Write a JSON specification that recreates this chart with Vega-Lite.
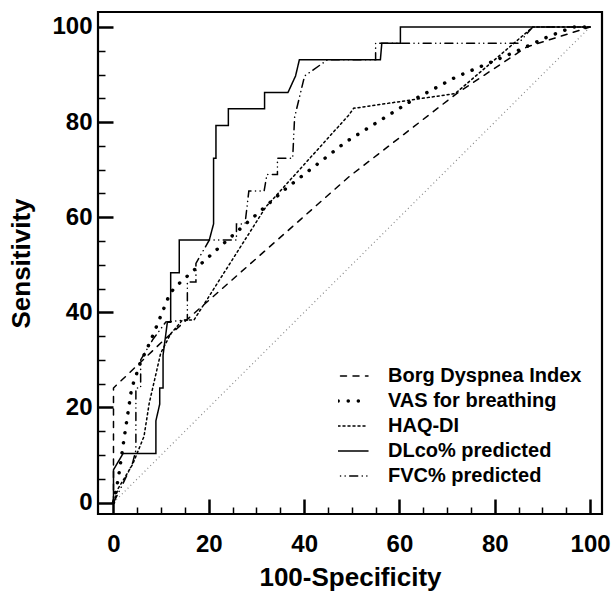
{
  "$schema": "https://vega.github.io/schema/vega-lite/v6.json",
  "width": 504,
  "height": 502,
  "autosize": {"type": "none"},
  "padding": {"left": 98, "top": 12, "right": 12, "bottom": 81},
  "background": "white",
  "config": {
    "view": {"stroke": "black", "strokeWidth": 2.2},
    "font": "Liberation Sans",
    "axis": {"grid": false, "domain": false, "labelFont": "Liberation Sans", "labelFontWeight": "bold", "labelColor": "black", "titleFont": "Liberation Sans", "titleFontWeight": "bold", "titleColor": "black", "tickColor": "black"}
  },
  "datasets": {
    "roc": [
      {"s": "Borg Dyspnea Index", "i": 0, "x": 0, "y": 0},
      {"s": "Borg Dyspnea Index", "i": 1, "x": 0, "y": 24.1},
      {"s": "Borg Dyspnea Index", "i": 2, "x": 10.6, "y": 34.2},
      {"s": "Borg Dyspnea Index", "i": 3, "x": 49.4, "y": 68.5},
      {"s": "Borg Dyspnea Index", "i": 4, "x": 72, "y": 86},
      {"s": "Borg Dyspnea Index", "i": 5, "x": 86.7, "y": 95.8},
      {"s": "Borg Dyspnea Index", "i": 6, "x": 100, "y": 100},

      {"s": "VAS for breathing", "i": 0, "x": 0, "y": 0},
      {"s": "VAS for breathing", "i": 1, "x": 1, "y": 5},
      {"s": "VAS for breathing", "i": 2, "x": 2.2, "y": 13.3},
      {"s": "VAS for breathing", "i": 3, "x": 3.8, "y": 24},
      {"s": "VAS for breathing", "i": 4, "x": 5.6, "y": 29.3},
      {"s": "VAS for breathing", "i": 5, "x": 7.8, "y": 34},
      {"s": "VAS for breathing", "i": 6, "x": 9.9, "y": 39.2},
      {"s": "VAS for breathing", "i": 7, "x": 11.9, "y": 44.1},
      {"s": "VAS for breathing", "i": 8, "x": 13.8, "y": 46.1},
      {"s": "VAS for breathing", "i": 9, "x": 23.9, "y": 55.2},
      {"s": "VAS for breathing", "i": 10, "x": 35.9, "y": 65.8},
      {"s": "VAS for breathing", "i": 11, "x": 48.7, "y": 75.8},
      {"s": "VAS for breathing", "i": 12, "x": 62.4, "y": 84.4},
      {"s": "VAS for breathing", "i": 13, "x": 71.7, "y": 89.4},
      {"s": "VAS for breathing", "i": 14, "x": 83.9, "y": 94.6},
      {"s": "VAS for breathing", "i": 15, "x": 91.5, "y": 98.1},
      {"s": "VAS for breathing", "i": 16, "x": 96.5, "y": 100},
      {"s": "VAS for breathing", "i": 17, "x": 100, "y": 100},

      {"s": "HAQ-DI", "i": 0, "x": 0, "y": 0},
      {"s": "HAQ-DI", "i": 1, "x": 1, "y": 3},
      {"s": "HAQ-DI", "i": 2, "x": 4, "y": 8},
      {"s": "HAQ-DI", "i": 3, "x": 6.4, "y": 13.9},
      {"s": "HAQ-DI", "i": 4, "x": 7.5, "y": 20.9},
      {"s": "HAQ-DI", "i": 5, "x": 9.9, "y": 31.4},
      {"s": "HAQ-DI", "i": 6, "x": 12, "y": 35.5},
      {"s": "HAQ-DI", "i": 7, "x": 14.5, "y": 38.4},
      {"s": "HAQ-DI", "i": 8, "x": 16.9, "y": 38.4},
      {"s": "HAQ-DI", "i": 9, "x": 32, "y": 62.2},
      {"s": "HAQ-DI", "i": 10, "x": 49.3, "y": 81.4},
      {"s": "HAQ-DI", "i": 11, "x": 50.4, "y": 82.9},
      {"s": "HAQ-DI", "i": 12, "x": 71.7, "y": 86},
      {"s": "HAQ-DI", "i": 13, "x": 88, "y": 100},
      {"s": "HAQ-DI", "i": 14, "x": 100, "y": 100},

      {"s": "DLco% predicted", "i": 0, "x": 0, "y": 0},
      {"s": "DLco% predicted", "i": 1, "x": 0, "y": 6.9},
      {"s": "DLco% predicted", "i": 2, "x": 2, "y": 10.3},
      {"s": "DLco% predicted", "i": 3, "x": 8.9, "y": 10.3},
      {"s": "DLco% predicted", "i": 4, "x": 8.9, "y": 17.2},
      {"s": "DLco% predicted", "i": 5, "x": 9.7, "y": 20.7},
      {"s": "DLco% predicted", "i": 6, "x": 9.7, "y": 24.1},
      {"s": "DLco% predicted", "i": 7, "x": 10.4, "y": 24.1},
      {"s": "DLco% predicted", "i": 8, "x": 10.4, "y": 31},
      {"s": "DLco% predicted", "i": 9, "x": 11.3, "y": 37.9},
      {"s": "DLco% predicted", "i": 10, "x": 12, "y": 37.9},
      {"s": "DLco% predicted", "i": 11, "x": 12, "y": 48.3},
      {"s": "DLco% predicted", "i": 12, "x": 13.8, "y": 48.3},
      {"s": "DLco% predicted", "i": 13, "x": 13.8, "y": 55.2},
      {"s": "DLco% predicted", "i": 14, "x": 20.1, "y": 55.2},
      {"s": "DLco% predicted", "i": 15, "x": 21, "y": 58.6},
      {"s": "DLco% predicted", "i": 16, "x": 21, "y": 72.4},
      {"s": "DLco% predicted", "i": 17, "x": 21.5, "y": 72.4},
      {"s": "DLco% predicted", "i": 18, "x": 21.5, "y": 79.3},
      {"s": "DLco% predicted", "i": 19, "x": 24.1, "y": 79.3},
      {"s": "DLco% predicted", "i": 20, "x": 24.1, "y": 82.8},
      {"s": "DLco% predicted", "i": 21, "x": 31.7, "y": 82.8},
      {"s": "DLco% predicted", "i": 22, "x": 31.7, "y": 86.2},
      {"s": "DLco% predicted", "i": 23, "x": 36.6, "y": 86.2},
      {"s": "DLco% predicted", "i": 24, "x": 38.2, "y": 89.7},
      {"s": "DLco% predicted", "i": 25, "x": 39, "y": 93.1},
      {"s": "DLco% predicted", "i": 26, "x": 56, "y": 93.1},
      {"s": "DLco% predicted", "i": 27, "x": 56.3, "y": 96.6},
      {"s": "DLco% predicted", "i": 28, "x": 60.2, "y": 96.6},
      {"s": "DLco% predicted", "i": 29, "x": 60.2, "y": 100},
      {"s": "DLco% predicted", "i": 30, "x": 100, "y": 100},

      {"s": "FVC% predicted", "i": 0, "x": 0, "y": 0},
      {"s": "FVC% predicted", "i": 1, "x": 2, "y": 4},
      {"s": "FVC% predicted", "i": 2, "x": 4, "y": 8.3},
      {"s": "FVC% predicted", "i": 3, "x": 4.7, "y": 11},
      {"s": "FVC% predicted", "i": 4, "x": 4.7, "y": 24.1},
      {"s": "FVC% predicted", "i": 5, "x": 5.7, "y": 24.1},
      {"s": "FVC% predicted", "i": 6, "x": 5.7, "y": 30},
      {"s": "FVC% predicted", "i": 7, "x": 8.2, "y": 34.2},
      {"s": "FVC% predicted", "i": 8, "x": 11, "y": 38},
      {"s": "FVC% predicted", "i": 9, "x": 15.5, "y": 38.4},
      {"s": "FVC% predicted", "i": 10, "x": 15.5, "y": 46.4},
      {"s": "FVC% predicted", "i": 11, "x": 17.3, "y": 46.4},
      {"s": "FVC% predicted", "i": 12, "x": 17.3, "y": 50.3},
      {"s": "FVC% predicted", "i": 13, "x": 20.1, "y": 55.2},
      {"s": "FVC% predicted", "i": 14, "x": 25.8, "y": 55.2},
      {"s": "FVC% predicted", "i": 15, "x": 25.8, "y": 58.6},
      {"s": "FVC% predicted", "i": 16, "x": 27.6, "y": 58.6},
      {"s": "FVC% predicted", "i": 17, "x": 28.4, "y": 65.5},
      {"s": "FVC% predicted", "i": 18, "x": 31.6, "y": 65.5},
      {"s": "FVC% predicted", "i": 19, "x": 32.2, "y": 69},
      {"s": "FVC% predicted", "i": 20, "x": 34.4, "y": 69},
      {"s": "FVC% predicted", "i": 21, "x": 34.4, "y": 72.4},
      {"s": "FVC% predicted", "i": 22, "x": 37.6, "y": 72.4},
      {"s": "FVC% predicted", "i": 23, "x": 38, "y": 81},
      {"s": "FVC% predicted", "i": 24, "x": 40.1, "y": 89.7},
      {"s": "FVC% predicted", "i": 25, "x": 44.9, "y": 93.1},
      {"s": "FVC% predicted", "i": 26, "x": 55, "y": 93.1},
      {"s": "FVC% predicted", "i": 27, "x": 55, "y": 96.6},
      {"s": "FVC% predicted", "i": 28, "x": 85, "y": 96.6},
      {"s": "FVC% predicted", "i": 29, "x": 88, "y": 100},
      {"s": "FVC% predicted", "i": 30, "x": 100, "y": 100}
    ],
    "ref": [
      {"x": 0, "y": 0},
      {"x": 100, "y": 100}
    ]
  },
  "layer": [
    {
      "data": {"name": "ref"},
      "mark": {"type": "line", "stroke": "#888888", "strokeWidth": 1.2, "strokeDash": [1, 3]},
      "encoding": {
        "x": {"field": "x", "type": "quantitative", "scale": {"domain": [-3.25, 102.5], "nice": false, "zero": false},
          "axis": {"orient": "bottom", "values": [5, 10, 15, 25, 30, 35, 45, 50, 55, 65, 70, 75, 85, 90, 95], "labels": false, "title": null, "tickSize": -7, "tickWidth": 1.5}},
        "y": {"field": "y", "type": "quantitative", "scale": {"domain": [-2.4, 103.15], "nice": false, "zero": false},
          "axis": {"orient": "left", "values": [5, 10, 15, 25, 30, 35, 45, 50, 55, 65, 70, 75, 85, 90, 95], "labels": false, "title": null, "tickSize": -7, "tickWidth": 1.5}}
      }
    },
    {
      "data": {"name": "roc"},
      "mark": {"type": "line", "color": "black", "strokeCap": "round", "strokeJoin": "miter"},
      "encoding": {
        "x": {"field": "x", "type": "quantitative",
          "axis": {"orient": "bottom", "values": [0, 20, 40, 60, 80, 100], "title": "100-Specificity", "tickSize": -15, "tickWidth": 2.5, "labelFontSize": 24, "labelPadding": 33, "titleFontSize": 26, "titlePadding": 8}},
        "y": {"field": "y", "type": "quantitative",
          "axis": {"orient": "left", "values": [0, 20, 40, 60, 80, 100], "title": "Sensitivity", "tickSize": -15, "tickWidth": 2.5, "labelFontSize": 24, "labelPadding": 21, "titleFontSize": 26, "titlePadding": 17}},
        "order": {"field": "i", "type": "quantitative"},
        "strokeWidth": {"condition": {"test": "datum.s === 'VAS for breathing'", "value": 3.5}, "value": 1.5},
        "strokeDash": {"field": "s", "type": "nominal",
          "scale": {"domain": ["Borg Dyspnea Index", "VAS for breathing", "HAQ-DI", "DLco% predicted", "FVC% predicted"],
            "range": [[6, 6.5], [0.1, 10], [2, 3], [1, 0], [8, 4.5, 0.1, 4.5, 0.1, 4.5]]},
          "legend": {"title": null, "orient": "none", "legendX": 240, "legendY": 354, "symbolType": "stroke", "symbolSize": 1600, "clipHeight": 20, "symbolStrokeColor": "black", "labelFont": "Liberation Sans", "labelFontWeight": "bold", "labelFontSize": 20, "labelColor": "black", "labelOffset": 30, "rowPadding": 5, "padding": 0, "labelLimit": 400,
            "encode": {"symbols": {"update": {"strokeCap": {"value": "round"}, "strokeWidth": {"signal": "datum.value === 'VAS for breathing' ? 3.5 : 1.5"}}}}}}
      }
    }
  ],
  "resolve": {"axis": {"x": "independent", "y": "independent"}}
}
